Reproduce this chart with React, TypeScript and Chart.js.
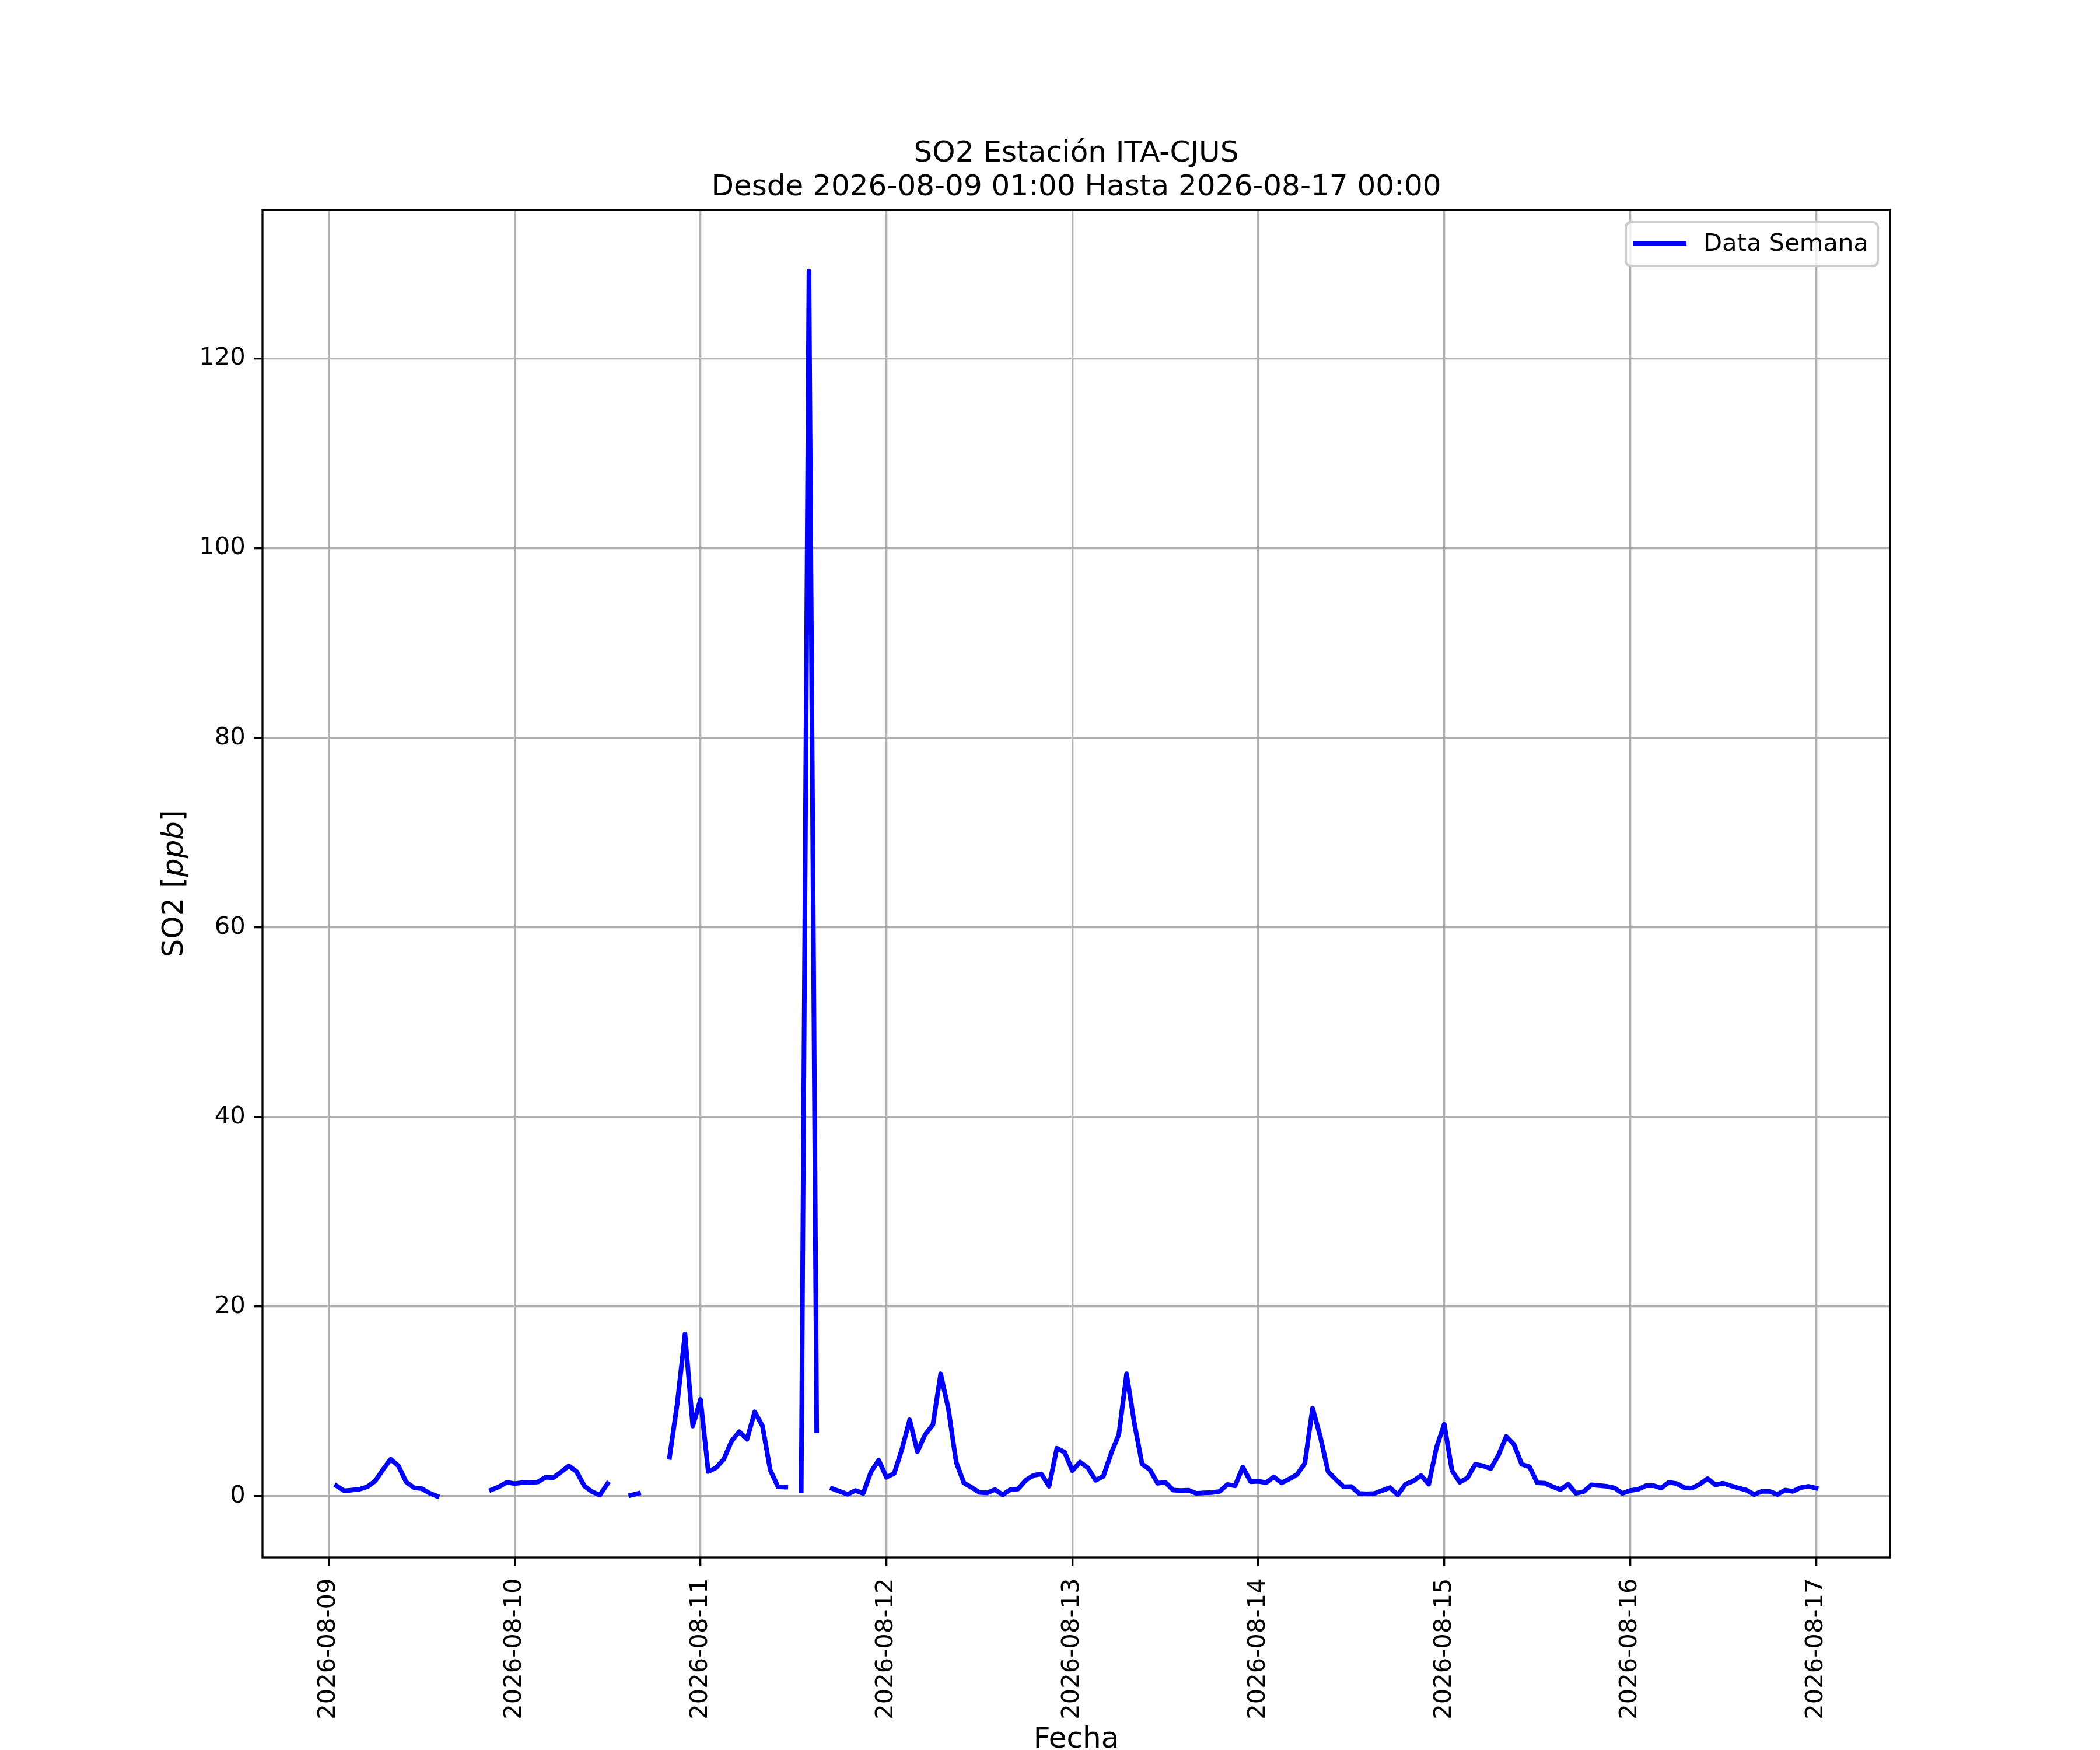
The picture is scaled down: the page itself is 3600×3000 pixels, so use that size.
import { useEffect, useRef } from "react";
import { Chart, registerables, type Plugin } from "chart.js";

Chart.register(...registerables);

// hourly SO2 readings, 08-09 01:00 .. 08-17 00:00 (null = no data)
const day1 = [1.1, 0.57, 0.65, 0.74, 1.0, 1.6, 2.8, 3.9, 3.2, 1.5, 0.9, 0.8, 0.33, 0.0, null, null, null, null, null, null, 0.67, 1.0, 1.47, 1.33];
const day2 = [1.43, 1.43, 1.5, 2.0, 1.95, 2.56, 3.2, 2.6, 1.08, 0.47, 0.12, 1.33, null, null, 0.1, 0.3, null, null, null, 4.1, 9.8, 17.1, 7.4, 10.2];
const day3 = [2.6, 3.0, 3.9, 5.8, 6.8, 6.0, 8.9, 7.4, 2.76, 1.0, 0.96, null, 0.55, 129.2, 6.9, null, 0.8, 0.5, 0.2, 0.6, 0.3, 2.56, 3.8, 2.0];
const day4 = [2.4, 4.95, 8.06, 4.7, 6.5, 7.55, 12.9, 9.2, 3.6, 1.4, 0.92, 0.4, 0.35, 0.7, 0.15, 0.7, 0.76, 1.7, 2.2, 2.35, 1.06, 5.05, 4.64, 2.7];
const day5 = [3.6, 3.0, 1.68, 2.1, 4.5, 6.5, 12.9, 7.7, 3.4, 2.8, 1.37, 1.47, 0.65, 0.6, 0.63, 0.29, 0.35, 0.39, 0.5, 1.23, 1.1, 3.07, 1.53, 1.57];
const day6 = [1.43, 2.04, 1.41, 1.82, 2.29, 3.46, 9.28, 6.28, 2.6, 1.78, 1.0, 1.02, 0.29, 0.25, 0.29, 0.6, 0.9, 0.14, 1.27, 1.6, 2.19, 1.27, 5.15, 7.6];
const day7 = [2.7, 1.47, 1.94, 3.37, 3.2, 2.9, 4.34, 6.3, 5.46, 3.37, 3.1, 1.41, 1.37, 1.0, 0.7, 1.27, 0.3, 0.49, 1.2, 1.12, 1.04, 0.86, 0.29, 0.6];
const day8 = [0.72, 1.1, 1.12, 0.86, 1.47, 1.33, 0.9, 0.86, 1.27, 1.86, 1.2, 1.37, 1.1, 0.86, 0.65, 0.18, 0.51, 0.51, 0.18, 0.65, 0.51, 0.9, 1.04, 0.86];

const dayTickLabels = [
  "2026-08-09", "2026-08-10", "2026-08-11", "2026-08-12", "2026-08-13",
  "2026-08-14", "2026-08-15", "2026-08-16", "2026-08-17",
];
const yTickValues = [0, 20, 40, 60, 80, 100, 120];

const FONT = "'DejaVu Sans'";
const PX = 300 / 72; // matplotlib points -> pixels at 300 dpi

const values = [...day1, ...day2, ...day3, ...day4, ...day5, ...day6, ...day7, ...day8];
// x = hours since 2026-08-09 00:00
const points = values.map((v, i) => ({ x: i + 1, y: v }));

const overlay: Plugin<"line"> = {
  id: "mplText",
  afterDraw(chart) {
    const { ctx, chartArea: a } = chart;
    const cx = (a.left + a.right) / 2;
    ctx.save();

    // spines
    ctx.strokeStyle = "#000";
    ctx.lineWidth = 0.8 * PX;
    ctx.strokeRect(a.left, a.top, a.right - a.left, a.bottom - a.top);

    // title
    ctx.fillStyle = "#000";
    ctx.textAlign = "center";
    ctx.textBaseline = "alphabetic";
    ctx.font = `${12 * PX}px ${FONT}`;
    ctx.fillText("SO2 Estación ITA-CJUS", cx, 277);
    ctx.fillText("Desde 2026-08-09 01:00 Hasta 2026-08-17 00:00", cx, 335);

    // x label
    ctx.fillText("Fecha", cx, 2996);

    // y label with italic ppb
    const parts: [string, string][] = [
      ["SO2 [", `${12 * PX}px ${FONT}`],
      ["ppb", `italic ${12 * PX}px ${FONT}`],
      ["]", `${12 * PX}px ${FONT}`],
    ];
    let total = 0;
    for (const [t, f] of parts) {
      ctx.font = f;
      total += ctx.measureText(t).width;
    }
    ctx.translate(313, (a.top + a.bottom) / 2);
    ctx.rotate(-Math.PI / 2);
    ctx.textAlign = "left";
    let px = -total / 2;
    for (const [t, f] of parts) {
      ctx.font = f;
      ctx.fillText(t, px, 0);
      px += ctx.measureText(t).width;
    }
    ctx.setTransform(1, 0, 0, 1, 0, 0);

    // legend
    const fs = 10 * PX;
    const bx = 2787, by = 381, bw = 3219 - 2787, bh = 456 - 381;
    ctx.beginPath();
    ctx.roundRect(bx, by, bw, bh, 0.2 * fs);
    ctx.fillStyle = "rgba(255,255,255,0.8)";
    ctx.fill();
    ctx.strokeStyle = "#cccccc";
    ctx.lineWidth = 1.0 * PX;
    ctx.stroke();
    ctx.beginPath();
    ctx.moveTo(2804, 417);
    ctx.lineTo(2887, 417);
    ctx.strokeStyle = "#0000ff";
    ctx.lineWidth = 8;
    ctx.lineCap = "square";
    ctx.stroke();
    ctx.fillStyle = "#000";
    ctx.font = `${fs}px ${FONT}`;
    ctx.textAlign = "left";
    ctx.textBaseline = "alphabetic";
    ctx.fillText("Data Semana", 2920, 430);

    ctx.restore();
  },
};

export default function App() {
  const canvasRef = useRef<HTMLCanvasElement>(null);

  useEffect(() => {
    const canvas = canvasRef.current;
    if (!canvas) return;

    const tickFont = { family: FONT, size: 10 * PX };
    const grid = {
      color: "#b0b0b0",
      lineWidth: 0.8 * PX,
      tickColor: "#000",
      tickWidth: 0.8 * PX,
      tickLength: 3.5 * PX,
    };

    const chart = new Chart(canvas, {
      type: "line",
      data: {
        datasets: [
          {
            label: "Data Semana",
            data: points,
            borderColor: "#0000ff",
            borderWidth: 8,
            pointRadius: 0,
            tension: 0,
            spanGaps: false,
            borderJoinStyle: "round",
            borderCapStyle: "square",
          },
        ],
      },
      options: {
        responsive: false,
        animation: false,
        devicePixelRatio: 1,
        layout: { padding: { top: 360, right: 360, left: 0, bottom: 0 } },
        plugins: {
          legend: { display: false },
          title: { display: false },
          tooltip: { enabled: false },
        },
        scales: {
          x: {
            type: "linear",
            min: 1 - 0.05 * 191,
            max: 192 + 0.05 * 191,
            afterBuildTicks: (s) => {
              s.ticks = dayTickLabels.map((_, i) => ({ value: i * 24 }));
            },
            afterFit: (s) => {
              s.height = 330;
            },
            ticks: {
              callback: (_v, i) => dayTickLabels[i],
              font: tickFont,
              color: "#000",
              autoSkip: false,
              minRotation: 90,
              maxRotation: 90,
              padding: 21,
            },
            grid,
            border: { display: false },
          },
          y: {
            type: "linear",
            min: -0.05 * 129.2,
            max: 129.2 * 1.05,
            afterBuildTicks: (s) => {
              s.ticks = yTickValues.map((v) => ({ value: v }));
            },
            afterFit: (s) => {
              s.width = 450;
            },
            ticks: {
              callback: (v) => String(v),
              font: tickFont,
              color: "#000",
              padding: 3.5 * PX,
            },
            grid,
            border: { display: false },
          },
        },
      },
      plugins: [overlay],
    });

    return () => chart.destroy();
  }, []);

  return (
    <div style={{ position: "absolute", left: 0, top: 0, width: 3600, height: 3000, background: "#fff" }}>
      <canvas ref={canvasRef} width={3600} height={3000} style={{ display: "block" }} />
    </div>
  );
}
